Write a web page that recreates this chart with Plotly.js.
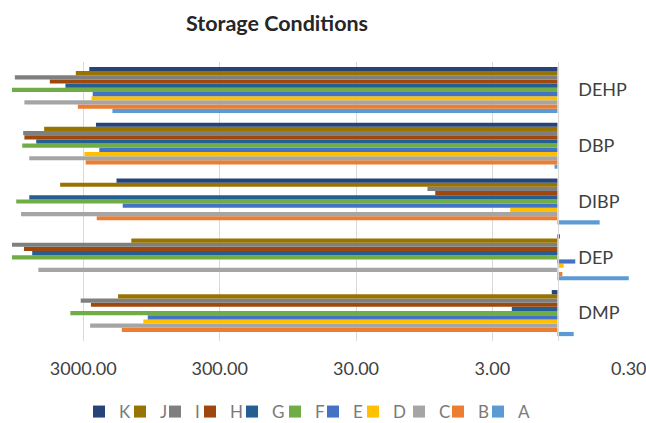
<!DOCTYPE html>
<html><head><meta charset="utf-8">
<script src="https://cdn.plot.ly/plotly-3.0.1.min.js"></script>
<style>html,body{margin:0;padding:0;background:#fff}#chart{width:646px;height:423px}</style>
</head><body><div id="chart"></div>
<script>
// Categories, bottom to top
const categories = ['DMP', 'DEP', 'DIBP', 'DBP', 'DEHP'];
const seriesNames = ['A', 'B', 'C', 'D', 'E', 'F', 'G', 'H', 'I', 'J', 'K'];
// Values per series, in category order above
const A = [0.76, 0.30, 0.49, 1.05, 1835];
const B = [1566, 0.92, 2390, 2883, 3288];
const C = [2673, 6410, 8580, 7470, 8110];
const D = [1089, 0.90, 2.22, 2943, 2612];
const E = [1010, 0.74, 1542, 2290, 2560];
const F = [3733, 10000, 9310, 8410, 10000];
const G = [2.16, 7110, 7470, 6640, 4055];
const H = [2637, 8170, 7.87, 8110, 5280];
const I = [3134, 10000, 8.98, 8280, 9525];
const J = [1667, 1334, 4437, 5810, 3405];
const K = [1.10, 0.96, 1712, 2423, 2710];
const tickValues = [3000, 300, 30, 3, 0.3];
const tickLabels = ['3000.00', '300.00', '30.00', '3.00', '0.30'];

const seriesValues = {A, B, C, D, E, F, G, H, I, J, K};
const colors = {
  A: '#5B9BD5', B: '#ED7D31', C: '#A5A5A5', D: '#FFC000', E: '#4472C4', F: '#70AD47',
  G: '#255E91', H: '#9E480E', I: '#7F7F7F', J: '#997300', K: '#264478'
};
// legend entry positions (left edge of swatch, px from left)
const legendSwatchX = {K: 101, J: 142, I: 177, H: 212, G: 254, F: 297, E: 335, D: 375, C: 421, B: 460, A: 500};
const axisBase = 1; // log-axis bars start at 1 (axis crossing)

const FONT = 'Lato, "Open Sans", sans-serif';
const W = 646, Hh = 423;

const traces = seriesNames.map((name, i) => ({
  type: 'bar',
  orientation: 'h',
  name: name,
  y: categories,
  base: axisBase,
  x: seriesValues[name].map(v => v - axisBase),
  marker: {color: colors[name], line: {width: 0}},
  legend: i === 0 ? 'legend' : 'legend' + (i + 1),
  hoverinfo: 'skip'
}));

const layout = {
  width: W, height: Hh,
  margin: {l: 12, r: 17, t: 62, b: 82, pad: 0},
  paper_bgcolor: '#fff', plot_bgcolor: '#fff',
  barmode: 'group', bargap: 0.175, bargroupgap: 0,
  title: {
    text: 'Storage Conditions',
    font: {family: FONT, size: 21.5, color: '#262626', weight: 700},
    xref: 'container', x: 277 / W, xanchor: 'center',
    yref: 'container', y: 1 - 23.5 / Hh, yanchor: 'middle'
  },
  xaxis: {
    type: 'log', range: [4, Math.log10(0.3) - 0.002],
    tickmode: 'array', tickvals: tickValues, ticktext: tickLabels,
    showgrid: true, gridcolor: '#d9d9d9', gridwidth: 1,
    zeroline: false, showline: false, ticks: '',
    tickfont: {family: FONT, size: 18, color: '#404040'},
    ticklabelstandoff: 15, ticklabeloverflow: 'allow', fixedrange: true
  },
  yaxis: {
    type: 'category', categoryorder: 'array', categoryarray: categories,
    range: [-0.5, 4.5],
    anchor: 'free', position: 0.8844, side: 'right',
    showline: true, linecolor: '#d9d9d9', linewidth: 1,
    showgrid: false, zeroline: false, ticks: '',
    tickfont: {family: FONT, size: 18, color: '#404040'},
    ticklabelstandoff: 16, fixedrange: true
  },
  showlegend: true
};

seriesNames.forEach((name, i) => {
  const key = i === 0 ? 'legend' : 'legend' + (i + 1);
  layout[key] = {
    orientation: 'h',
    xref: 'container', x: (legendSwatchX[name] - 22) / W, xanchor: 'left',
    yref: 'container', y: (Hh - 412) / Hh, yanchor: 'middle',
    font: {family: FONT, size: 17, color: '#7a7a7a'},
    itemwidth: 30, bgcolor: 'rgba(0,0,0,0)', borderwidth: 0
  };
});

Plotly.newPlot('chart', traces, layout, {displayModeBar: false, staticPlot: true});
</script>
</body></html>
